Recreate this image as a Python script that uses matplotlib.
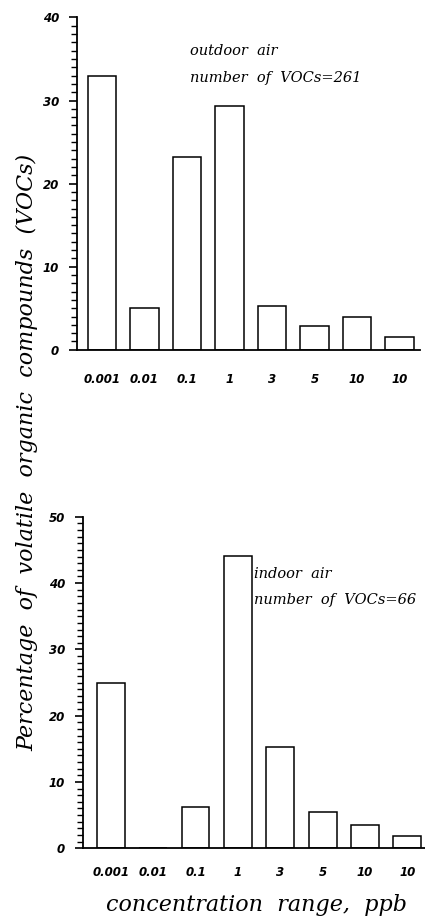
import numpy as np
import matplotlib
matplotlib.use("Agg")
import matplotlib.pyplot as plt
from matplotlib.ticker import MultipleLocator
from matplotlib.font_manager import FontProperties

# ------------------
# Data
# ------------------
ranges = ["0.001", "0.01", "0.1", "1", "3", "5", "10", "10"]
outdoor_pct = [33.0, 5.0, 23.2, 29.3, 5.3, 2.9, 4.0, 1.5]
indoor_pct = [25.0, 0.0, 6.2, 44.1, 15.3, 5.4, 3.5, 1.8]
outdoor_note = ["outdoor  air", "number  of  VOCs=261"]
indoor_note = ["indoor  air", "number  of  VOCs=66"]

TICK_FONT = dict(family="DejaVu Sans", style="italic", weight="bold", size=8.5)
NOTE_FONT = dict(family="DejaVu Serif", style="italic", size=10.5)
LABEL_FONT = dict(family="DejaVu Serif", style="italic", size=16)

fig = plt.figure(figsize=(4.25, 9.18), dpi=100)
ax1 = fig.add_axes([0.181, 0.619, 0.807, 0.362])
ax2 = fig.add_axes([0.195, 0.076, 0.805, 0.361])


def style_axis(ax, ymax, xlim, xpad):
    x = np.arange(len(ranges))
    ax.set_xlim(*xlim)
    ax.set_ylim(0, ymax)
    for side in ("top", "right"):
        ax.spines[side].set_visible(False)
    ax.spines["left"].set_linewidth(1.3)
    ax.spines["bottom"].set_linewidth(1.3)
    ax.yaxis.set_major_locator(MultipleLocator(10))
    ax.yaxis.set_minor_locator(MultipleLocator(1))
    ax.tick_params(axis="y", which="major", length=6, width=1.2, pad=7)
    ax.tick_params(axis="y", which="minor", length=4, width=1.0)
    ax.tick_params(axis="x", length=0, pad=xpad)
    ax.set_xticks(x)
    ax.set_xticklabels(ranges, fontdict=TICK_FONT)
    for lab in ax.get_yticklabels():
        lab.set_fontproperties(FontProperties(**TICK_FONT))
    return x


x = style_axis(ax1, 40, (-0.59, 7.48), 17)
ax1.bar(x, outdoor_pct, width=0.66, facecolor="white", edgecolor="black", linewidth=1.1)
ax1.text(2.07, 35.5, outdoor_note[0], fontdict=NOTE_FONT)
ax1.text(2.07, 32.2, outdoor_note[1], fontdict=NOTE_FONT)

x = style_axis(ax2, 50, (-0.66, 7.42), 13)
ax2.bar(x, indoor_pct, width=0.66, facecolor="white", edgecolor="black", linewidth=1.1)
ax2.text(3.38, 40.8, indoor_note[0], fontdict=NOTE_FONT)
ax2.text(3.38, 36.8, indoor_note[1], fontdict=NOTE_FONT)

fig.text(0.064, 0.507, "Percentage  of  volatile  organic  compounds  (VOCs)",
         rotation=90, ha="center", va="center", fontdict=LABEL_FONT)
fig.text(0.603, 0.014, "concentration  range,  ppb", ha="center", va="center",
         fontdict=LABEL_FONT)

fig.savefig("out.png", dpi=100, facecolor="white")
